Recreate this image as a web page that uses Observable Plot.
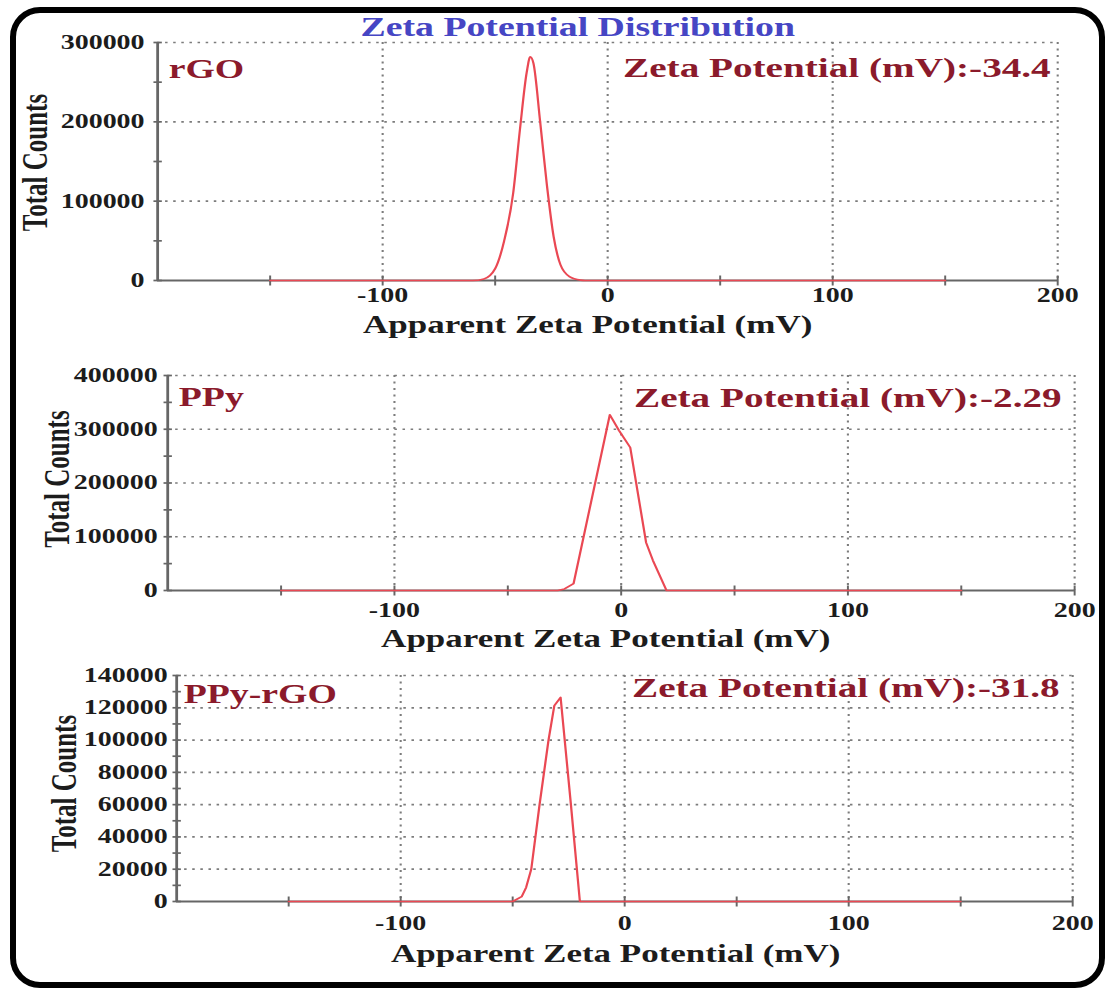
<!DOCTYPE html>
<html><head><meta charset="utf-8">
<script src="https://cdn.jsdelivr.net/npm/d3@7"></script>
<script src="https://cdn.jsdelivr.net/npm/@observablehq/plot@0.6"></script>
<style>
html,body{margin:0;padding:0;background:#fff;}
body{width:1113px;height:989px;position:relative;overflow:hidden;}
#frame{position:absolute;left:10px;top:7px;width:1095px;height:981px;box-sizing:border-box;border:6px solid #000;border-radius:30px;}
#wrap{position:absolute;left:0;top:0;width:795px;height:989px;transform:scaleX(1.4);transform-origin:0 0;}
#wrap svg{position:absolute;left:0;}
</style></head><body>
<div id="frame"></div>
<div id="wrap"></div>
<script>
// ---- text ----
const chartTitle = "Zeta Potential Distribution";
const xLabel = "Apparent Zeta Potential (mV)";
const yLabel = "Total Counts";
const sampleNames = ["rGO", "PPy", "PPy-rGO"];
const zetaValues = ["-34.4", "-2.29", "-31.8"];

// ---- x axis ----
const xDomain = [-200, 200];
const xTickLabels = [-100, 0, 100, 200];
const xTickMarks = [-150, -100, -50, 0, 50, 100, 150, 200];
const xGrid = [-100, 0, 100, 200];

// ---- series ----
const rGO_mV     = [-150, -60, -55, -50, -46, -42, -39, -36, -34.4, -33, -30, -27, -24, -21, -17, -12, -10, 150];
const rGO_counts = [0, 0, 2000, 15000, 50000, 110000, 190000, 262000, 282000, 274000, 200000, 120000, 55000, 20000, 5000, 500, 0, 0];

const PPy_mV     = [-150, -28, -25, -21, -5, -1, 4, 11, 14, 20, 150];
const PPy_counts = [0, 0, 3000, 13000, 327000, 298000, 266000, 89000, 56000, 0, 0];

const PPyrGO_mV     = [-150, -50, -46, -44, -41.7, -38, -34, -31.4, -28.6, -24, -20, 150];
const PPyrGO_counts = [0, 0, 3000, 8700, 20000, 60000, 100000, 121400, 126400, 60000, 0, 0];

// ---- y axes ----
const yMax_rGO = 300000;
const yTicks_rGO = [0, 100000, 200000, 300000];
const yMinor_rGO = [50000, 150000, 250000];
const yMax_PPy = 400000;
const yTicks_PPy = [0, 100000, 200000, 300000, 400000];
const yMinor_PPy = [50000, 150000, 250000, 350000];
const yMax_PPyrGO = 140000;
const yTicks_PPyrGO = [0, 20000, 40000, 60000, 80000, 100000, 120000, 140000];
const yMinor_PPyrGO = [10000, 30000, 50000, 70000, 90000, 110000, 130000];

// ---- styling / layout ----
const RED = "#ea4853", DARK = "#8b1a2b", AXIS = "#666666", GRID = "#7c7c7c", INK = "#1c1c1c", BLUE = "#4646c4";
const FONT = "'Liberation Serif', 'Times New Roman', 'DejaVu Serif', serif";
const hTick = {draw(c, size){const r = Math.sqrt(size / Math.PI); c.moveTo(-r, 0); c.lineTo(r, 0);}};
const vTick = {draw(c, size){const r = Math.sqrt(size / Math.PI); c.moveTo(0, -r); c.lineTo(0, r);}};

const panels = [
  {i: 0, mV: rGO_mV, counts: rGO_counts, curve: "monotone-x", yMax: yMax_rGO, yTicks: yTicks_rGO, yMinor: yMinor_rGO,
   top: 0, height: 340, mT: 42, mB: 60, mL: 112.1, mR: 40, xPad: 7.4, yPad: 9.3,
   nameDx: 7.9, nameDy: 27, zDx: -5, zDy: 26, xlDx: -14.3, xlDy: 44, ylDx: -87.1, ylDy: 1, title: true},
  {i: 1, mV: PPy_mV, counts: PPy_counts, curve: "linear", yMax: yMax_PPy, yTicks: yTicks_PPy, yMinor: yMinor_PPy,
   top: 340, height: 320, mT: 35, mB: 70, mL: 119.3, mR: 27.9, xPad: 12.4, yPad: 7.1,
   nameDx: 7.9, nameDy: 22, zDx: -9.3, zDy: 23, xlDx: -11, xlDy: 48, ylDx: -78.6, ylDy: -4},
  {i: 2, mV: PPyrGO_mV, counts: PPyrGO_counts, curve: "linear", yMax: yMax_PPyrGO, yTicks: yTicks_PPyrGO, yMinor: yMinor_PPyrGO,
   top: 660, height: 329, mT: 15, mB: 88, mL: 125.7, mR: 29.3, xPad: 14.4, yPad: 6.4,
   nameDx: 5, nameDy: 19, zDx: -9.3, zDy: 13, xlDx: -6.4, xlDy: 52, ylDx: -80, ylDy: -5}
];

const wrap = document.getElementById("wrap");
for (const p of panels) {
  const data = p.mV.map((x, k) => ({mV: x, counts: p.counts[k]}));
  const yGrid = p.yTicks.filter(v => v !== 0);
  const marks = [
    Plot.ruleY(yGrid, {y: d => d, stroke: GRID, strokeWidth: 1.7, strokeDasharray: "1.8,4"}),
    Plot.ruleX(xGrid, {x: d => d, stroke: GRID, strokeWidth: 1.5, strokeDasharray: "2,4.5"}),
    Plot.ruleY([0], {y: d => d, stroke: AXIS, strokeWidth: 2}),
    Plot.ruleX([xDomain[0]], {x: d => d, stroke: AXIS, strokeWidth: 2}),
    Plot.dot(xTickMarks, {x: d => d, y: () => 0, symbol: vTick, r: 5, fill: "none", stroke: AXIS, strokeWidth: 1.4}),
    Plot.dot(p.yTicks.concat(p.yMinor), {x: () => xDomain[0], y: d => d, symbol: hTick, r: 3, fill: "none", stroke: AXIS, strokeWidth: 1.7}),
    Plot.axisX({ticks: xTickLabels, tickSize: 0, tickPadding: p.xPad, tickFormat: d => String(d), fontSize: 20, color: INK, label: null}),
    Plot.axisY({ticks: p.yTicks, tickSize: 0, tickPadding: p.yPad, tickFormat: d => String(d), fontSize: 20, color: INK, label: null}),
    Plot.line(data, {x: "mV", y: "counts", curve: p.curve, stroke: RED, strokeWidth: 1.6}),
    Plot.text([sampleNames[p.i]], {text: d => d, frameAnchor: "top-left", textAnchor: "start", lineAnchor: "middle", dx: p.nameDx, dy: p.nameDy, fontSize: 27, fill: DARK}),
    Plot.text([`Zeta Potential (mV):${zetaValues[p.i]}`], {text: d => d, frameAnchor: "top-right", textAnchor: "end", lineAnchor: "middle", dx: p.zDx, dy: p.zDy, fontSize: 28, fill: DARK}),
    Plot.text([xLabel], {text: d => d, frameAnchor: "bottom", textAnchor: "middle", lineAnchor: "middle", dx: p.xlDx, dy: p.xlDy, fontSize: 25, fill: INK}),
    Plot.text([yLabel], {text: d => d, frameAnchor: "left", rotate: -90, textAnchor: "middle", lineAnchor: "middle", dx: p.ylDx, dy: p.ylDy, fontSize: 25, fill: INK})
  ];
  if (p.title) {
    marks.push(Plot.text([chartTitle], {text: d => d, frameAnchor: "top", textAnchor: "middle", lineAnchor: "middle", dx: -21.4, dy: -15, fontSize: 27, fill: BLUE}));
  }
  const svg = Plot.plot({
    width: 795, height: p.height,
    marginTop: p.mT, marginBottom: p.mB, marginLeft: p.mL, marginRight: p.mR,
    x: {domain: xDomain},
    y: {domain: [0, p.yMax]},
    style: {fontFamily: FONT, fontWeight: "bold", background: "transparent", overflow: "visible"},
    marks
  });
  svg.style.top = p.top + "px";
  wrap.appendChild(svg);
}
</script>
</body></html>
